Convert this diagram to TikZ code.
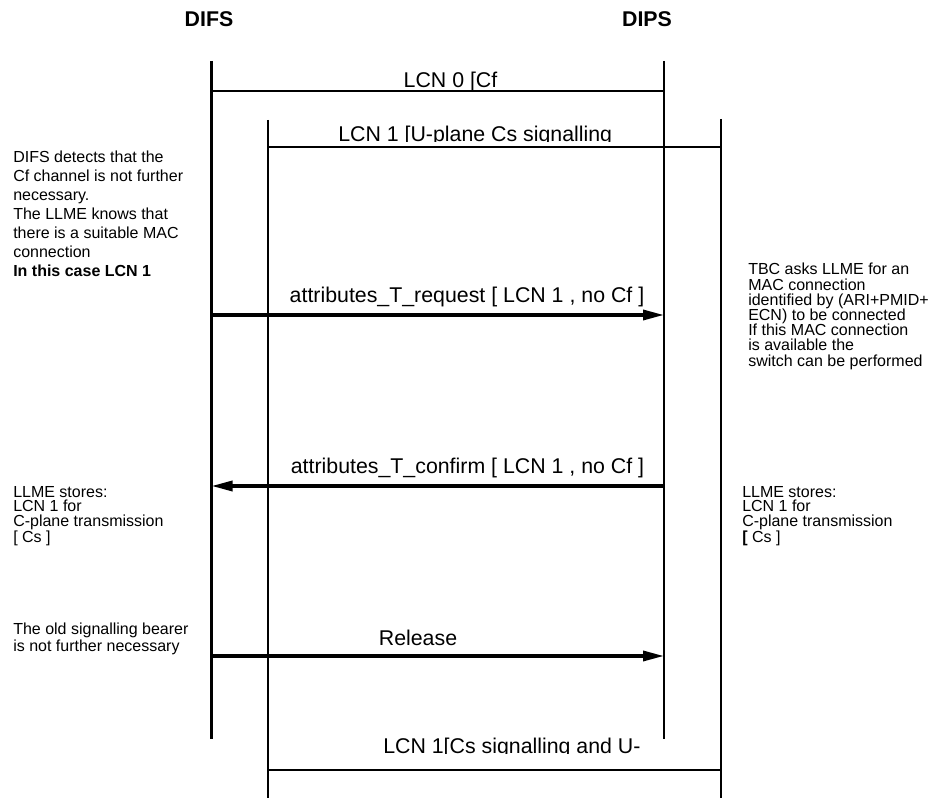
\documentclass[tikz,border=0pt]{standalone}
\usepackage{fontspec}
\setmainfont{Liberation Sans}
\usetikzlibrary{arrows.meta}
\begin{document}
\begin{tikzpicture}[x=0.75pt,y=-0.75pt,
  life/.style={line width=2pt},
  msg/.style={line width=2.5pt,-{Triangle[length=15.75pt,width=7.5pt]}},
  lbl/.style={font=\fontsize{16}{19}\selectfont,inner sep=0pt,anchor=base},
  ttl/.style={font=\bfseries\fontsize{16}{19}\selectfont,inner sep=0pt,anchor=base},
  notea/.style={font=\fontsize{12}{14.25}\selectfont,inner sep=0pt,anchor=north west,align=left},
  noteb/.style={font=\fontsize{12}{11.4}\selectfont,inner sep=0pt,anchor=north west,align=left},
  notec/.style={font=\fontsize{12}{10.8}\selectfont,inner sep=0pt,anchor=north west,align=left},
  noted/.style={font=\fontsize{12}{10.5}\selectfont,inner sep=0pt,anchor=north west,align=left},
]
\useasboundingbox (0,0) rectangle (933,798);

% titles
\node[ttl] (difs) at (209,27) {DIFS};
\node[ttl] (dips) at (647,27) {DIPS};

% lifelines
\coordinate (difsT) at (211.5,61);
\coordinate (difsB) at (211.5,739);
\coordinate (dipsT) at (664,61);
\coordinate (dipsB) at (664,739);
\coordinate (inT) at (268,120);
\coordinate (inB) at (268,798);
\coordinate (outT) at (721,119);
\coordinate (outB) at (721,798);
\draw[life] (difsT) -- (difsB);
\draw[life] (dipsT) -- (dipsB);
\draw[life] (inT) -- (inB);
\draw[life] (outT) -- (outB);

% LCN 0 [Cf
\coordinate (c0a) at (211.5,91);
\coordinate (c0b) at (664,91);
\draw[life] (c0a) -- (c0b);
\node[lbl] (lcn0) at (450.5,87.5) {LCN 0 [Cf};

% LCN 1 [U-plane Cs signalling
\coordinate (c1a) at (268,147);
\coordinate (c1b) at (721,147);
\draw[life] (c1a) -- (c1b);
\begin{scope}
  \clip (300,100) rectangle (700,142);
  \node[lbl,anchor=base west] (lcn1) at (338,141.7) {LCN 1 [U-plane Cs signalling};
\end{scope}

% notes
\node[notea] (n1) at (13,151) {DIFS detects that the\\Cf channel is not further\\necessary.\\The LLME knows that\\there is a suitable MAC\\connection\\\textbf{In this case LCN 1}};
\node[noteb] (n2) at (748,263) {TBC asks LLME for an\\MAC connection\\identified by (ARI+PMID+\\ECN) to be connected\\If this MAC connection\\is available the\\switch can be performed};

% request
\coordinate (rqa) at (211.5,315);
\coordinate (rqb) at (664,315);
\draw[msg] (rqa) -- (rqb);
\node[lbl] (rq) at (467,302.5) {attributes\_T\_request [ LCN 1 , no Cf ]};

% confirm
\coordinate (cfa) at (664,486);
\coordinate (cfb) at (211.5,486);
\draw[msg] (cfa) -- (cfb);
\node[lbl] (cf) at (467.5,473.5) {attributes\_T\_confirm [ LCN 1 , no Cf ]};

\node[notec] (n3) at (13,486) {LLME stores:\\LCN 1 for\\C-plane transmission\\{[} Cs ]};
\node[notec] (n4) at (742,486) {LLME stores:\\LCN 1 for\\C-plane transmission\\\textbf{[} Cs ]};

% release
\coordinate (rla) at (211.5,656);
\coordinate (rlb) at (664,656);
\draw[msg] (rla) -- (rlb);
\node[lbl] (rl) at (418,645.5) {Release};
\node[noted] (n5) at (13,623) {The old signalling bearer\\is not further necessary};

% LCN 1[Cs signalling and U-
\coordinate (c2a) at (268,770);
\coordinate (c2b) at (721,770);
\draw[life] (c2a) -- (c2b);
\begin{scope}
  \clip (300,720) rectangle (700,754);
  \node[lbl,anchor=base west] (lcn2) at (383,753.5) {LCN 1[Cs signalling and U-};
\end{scope}
\end{tikzpicture}
\end{document}
